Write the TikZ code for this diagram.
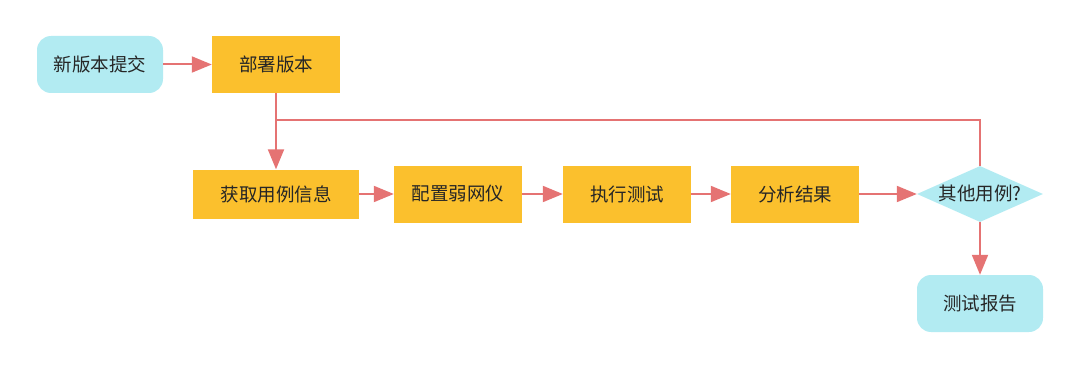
\documentclass[tikz,border=0pt]{standalone}
\usepackage{fontspec}
\setmainfont{Noto Sans CJK SC}
\usetikzlibrary{shapes.geometric,arrows.meta}
\definecolor{cyanfill}{HTML}{B2EBF2}
\definecolor{orangefill}{HTML}{FBC02D}
\definecolor{linered}{HTML}{E57373}
\begin{document}
\begin{tikzpicture}[x=1pt,y=-1pt,
  base/.style={font=\fontsize{18.5}{20}\selectfont, text=black!85, inner sep=0pt},
  term/.style={base, fill=cyanfill, rounded corners=14pt, minimum width=126pt, minimum height=57pt},
  proc/.style={base, fill=orangefill, minimum width=128pt, minimum height=57pt},
  dec/.style={base, fill=cyanfill, diamond, aspect=2.25, minimum width=126pt, minimum height=56pt},
  conn/.style={draw=linered, line width=2pt},
  arr/.style={conn, -{Triangle[length=20pt,width=16pt]}}]
\useasboundingbox (0,0) rectangle (1080,369);
\node[term] (new) at (100,64.5) {新版本提交};
\node[proc] (deploy) at (276,64.5) {部署版本};
\node[proc, minimum width=166pt, minimum height=49pt] (get) at (276,194) {获取用例信息};
\node[proc] (cfg) at (458,194) {配置弱网仪};
\node[proc] (run) at (627,194) {执行测试};
\node[proc] (ana) at (795,194) {分析结果};
\node[dec] (other) at (980,194) {其他用例?};
\node[term] (rep) at (980,303.5) {测试报告};
\coordinate (jn) at (276,120);
\coordinate (jr) at (980,120);
\draw[arr] (new) -- (deploy);
\draw[arr] (deploy) -- (get);
\draw[conn] (other.north) -- (jr) -- (jn);
\draw[arr] (get) -- (cfg);
\draw[arr] (cfg) -- (run);
\draw[arr] (run) -- (ana);
\draw[arr] (ana) -- (other);
\draw[arr] (other) -- (rep);
\end{tikzpicture}
\end{document}
